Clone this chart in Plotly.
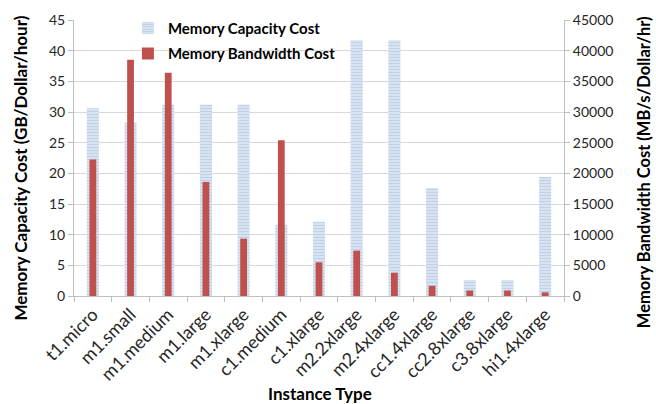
import plotly.graph_objects as go

categories = ["t1.micro", "m1.small", "m1.medium", "m1.large", "m1.xlarge", "c1.medium",
              "c1.xlarge", "m2.2xlarge", "m2.4xlarge", "cc1.4xlarge", "cc2.8xlarge",
              "c3.8xlarge", "hi1.4xlarge"]
capacity_cost = [30.6, 28.3, 31.2, 31.2, 31.2, 11.6, 12.1, 41.7, 41.7, 17.6, 2.6, 2.6, 19.4]
bandwidth_cost = [22260, 38500, 36400, 18600, 9350, 25400, 5500, 7400, 3800, 1650, 900, 900, 600]
left_ticks = list(range(0, 50, 5))
right_ticks = list(range(0, 50000, 5000))

FONT = "Lato, Open Sans, sans-serif"
TXT = "#262626"
GRID = "#d9d9d9"
AX = "#bfbfbf"

fig = go.Figure()
fig.add_trace(go.Bar(
    x=categories, y=capacity_cost, name="Memory Capacity Cost",
    width=0.32, yaxis="y", legendgroup="a",
    marker=dict(color="#dce6f2", line=dict(width=0),
                pattern=dict(shape="-", fgcolor="#9fbbe0", bgcolor="#dce6f2",
                             size=3, solidity=0.45)),
))
fig.add_trace(go.Bar(
    x=categories, y=bandwidth_cost, name="Memory Bandwidth Cost",
    width=0.18, yaxis="y2", legendgroup="b",
    marker=dict(color="#c0504d", line=dict(width=0)),
))

title_font = dict(family=FONT, color="#000", weight="bold")

fig.update_layout(
    width=656, height=404,
    margin=dict(l=74, r=92, t=17, b=108),
    paper_bgcolor="white", plot_bgcolor="white",
    barmode="overlay",
    font=dict(family=FONT, size=14, color=TXT),
    showlegend=True,
    legend=dict(x=0.11, y=1.03, xanchor="left", yanchor="top",
                bgcolor="rgba(0,0,0,0)", traceorder="grouped", tracegroupgap=3,
                font=dict(family=FONT, size=15, color="#000", weight="bold"),
                itemwidth=30),
    xaxis=dict(
        type="category", tickangle=-45, automargin=False,
        tickfont=dict(family=FONT, size=18, color=TXT),
        showline=True, linecolor=AX, linewidth=1,
        ticks="outside", ticklen=5, tickcolor=AX, tickson="boundaries",
        showgrid=False,
    ),
    yaxis=dict(
        range=[0, 45], tickvals=left_ticks, automargin=False,
        tickfont=dict(family=FONT, size=14, color=TXT),
        showline=True, linecolor=AX, linewidth=1,
        ticks="outside", ticklen=5, tickcolor=AX,
        showgrid=True, gridcolor=GRID, gridwidth=1, zeroline=False,
    ),
    yaxis2=dict(
        range=[0, 45000], tickvals=right_ticks, tickformat="d", automargin=False,
        overlaying="y", side="right",
        tickfont=dict(family=FONT, size=14, color=TXT),
        showline=True, linecolor=AX, linewidth=1,
        ticks="outside", ticklen=5, tickcolor=AX,
        showgrid=False, zeroline=False,
    ),
    annotations=[
        dict(text="Memory Capacity Cost (GB/Dollar/hour)", xref="paper", yref="paper",
             x=-0.110, y=0.462, textangle=-90, showarrow=False,
             xanchor="center", yanchor="middle", font=dict(size=17, **title_font)),
        dict(text="Memory Bandwidth Cost (MB/s/Dollar/hr)", xref="paper", yref="paper",
             x=1.165, y=0.448, textangle=-90, showarrow=False,
             xanchor="center", yanchor="middle", font=dict(size=16.5, **title_font)),
        dict(text="Instance Type", xref="paper", yref="paper",
             x=0.502, y=-0.355, showarrow=False,
             xanchor="center", yanchor="middle", font=dict(size=17, **title_font)),
    ],
)

fig.write_html("out.html", config={"displayModeBar": False},
               post_script="document.body.style.margin='0';document.body.style.overflow='hidden';")
